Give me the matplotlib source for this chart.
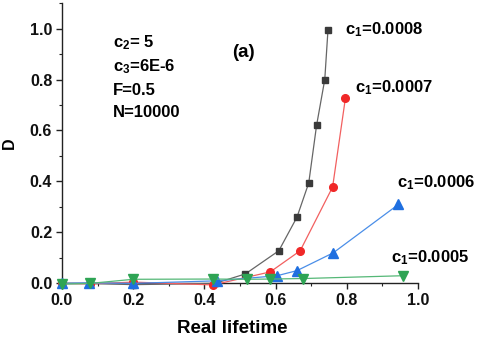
import matplotlib
matplotlib.use("Agg")
import matplotlib.pyplot as plt
from matplotlib.ticker import MultipleLocator

plt.rcParams['font.family'] = ['Liberation Sans', 'DejaVu Sans']
plt.rcParams['mathtext.fontset'] = 'custom'
plt.rcParams['mathtext.rm'] = 'Liberation Sans:bold'
plt.rcParams['mathtext.it'] = 'Liberation Sans:bold'
plt.rcParams['mathtext.bf'] = 'Liberation Sans:bold'

# Data
x_0008 = [0.0, 0.08, 0.20, 0.43, 0.515, 0.609, 0.66, 0.693, 0.715, 0.738, 0.747]
y_0008 = [0.0, 0.0, -0.005, 0.0, 0.037, 0.128, 0.26, 0.394, 0.62, 0.80, 0.994]

x_0007 = [0.0, 0.08, 0.20, 0.424, 0.585, 0.669, 0.76, 0.796]
y_0007 = [0.0, -0.002, 0.005, -0.006, 0.045, 0.128, 0.378, 0.727]

x_0006 = [0.0, 0.077, 0.20, 0.435, 0.604, 0.66, 0.762, 0.945]
y_0006 = [0.0, 0.002, 0.0, 0.01, 0.03, 0.05, 0.12, 0.31]

x_0005 = [0.0, 0.08, 0.20, 0.425, 0.519, 0.585, 0.678, 0.957]
y_0005 = [-0.003, 0.0, 0.016, 0.017, 0.016, 0.017, 0.019, 0.03]

labels = ['c$_1$=0.0008', 'c$_1$=0.0007', 'c$_1$=0.0006', 'c$_1$=0.0005']
params = ['c$_2$= 5', 'c$_3$=6E-6', 'F=0.5', 'N=10000']

fig = plt.figure(figsize=(4.8, 3.41), dpi=100)
ax = fig.add_axes([0.129, 0.169, 0.742, 0.822])

series = [
    (x_0008, y_0008, 's', '#3a3a3a', '#666666', 5),
    (x_0007, y_0007, 'o', '#f02828', '#f26060', 5.5),
    (x_0006, y_0006, '^', '#1f6fe0', '#4a8ee8', 6.5),
    (x_0005, y_0005, 'v', '#2ea454', '#55b877', 6.5),
]
for xs, ys, m, mc, lc, ms in series:
    ax.plot(xs, ys, color=lc, lw=0.9, marker=m, markersize=ms,
            markerfacecolor=mc, markeredgecolor=mc, clip_on=False, zorder=3)

ax.set_xlim(0, 1.0)
ax.set_ylim(0, 1.1)
ax.xaxis.set_major_locator(MultipleLocator(0.2))
ax.xaxis.set_minor_locator(MultipleLocator(0.1))
ax.yaxis.set_major_locator(MultipleLocator(0.2))
ax.yaxis.set_minor_locator(MultipleLocator(0.1))
ax.spines['top'].set_visible(False)
ax.spines['right'].set_visible(False)
for s in ['left', 'bottom']:
    ax.spines[s].set_color('#222222')
    ax.spines[s].set_linewidth(1.0)
ax.tick_params(which='major', direction='out', length=4, width=1, labelsize=11.5, colors='#222222', pad=3)
ax.tick_params(which='minor', direction='out', length=2.5, width=0.8, colors='#222222')
for lab in ax.get_xticklabels() + ax.get_yticklabels():
    lab.set_fontweight('bold')
    lab.set_color('#111111')

ax.set_xlabel('Real lifetime', fontsize=13.5, fontweight='bold', labelpad=9)
ax.xaxis.set_label_coords(0.478, -0.13)
ax.set_ylabel('D', fontsize=11.5, fontweight='bold', labelpad=9)

ax.text(0.796, 0.994, labels[0], fontsize=12, fontweight='bold', va='center', ha='left')
ax.text(0.824, 0.767, labels[1], fontsize=12, fontweight='bold', va='center', ha='left')
ax.text(0.94, 0.394, labels[2], fontsize=12, fontweight='bold', va='center', ha='left')
ax.text(0.925, 0.10, labels[3], fontsize=12, fontweight='bold', va='center', ha='left')
ax.text(0.478, 0.905, '(a)', fontsize=13.5, fontweight='bold', va='center', ha='left')

param_y = [0.945, 0.85, 0.758, 0.67]
for t, yy in zip(params, param_y):
    ax.text(0.143, yy, t, fontsize=12, fontweight='bold', va='center', ha='left')

fig.savefig('out.png', dpi=100)
